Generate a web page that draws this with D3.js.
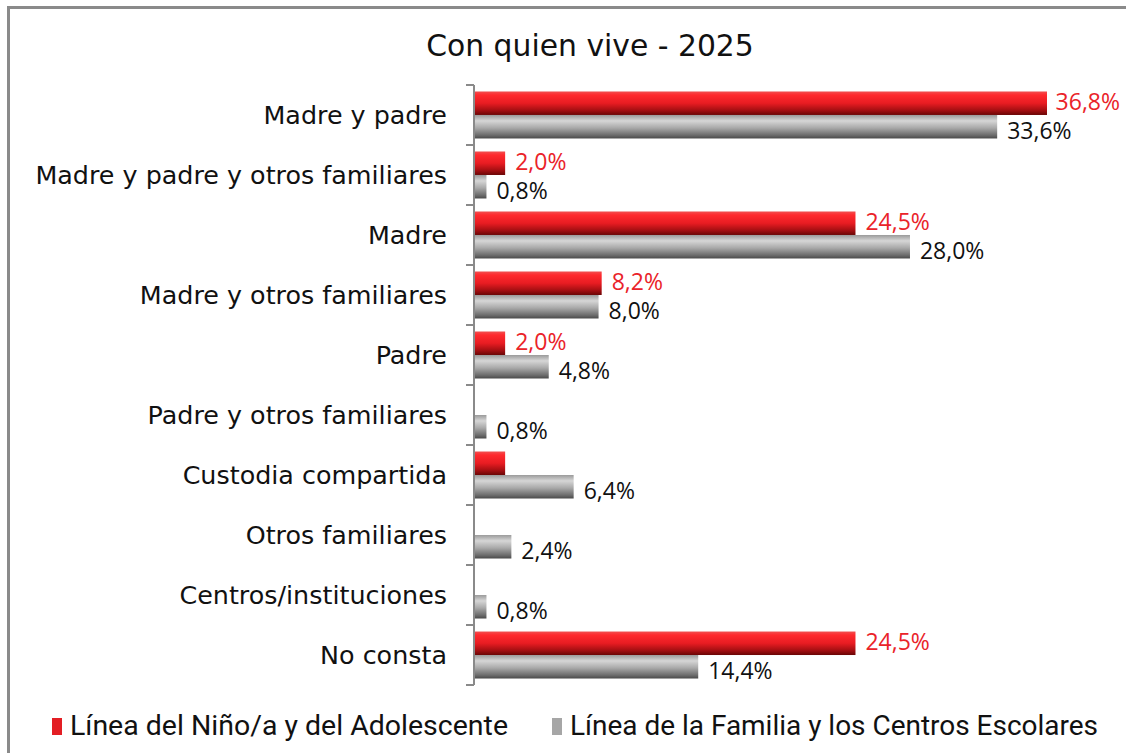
<!DOCTYPE html>
<meta charset="utf-8">
<head>
<style>
body { margin: 0; background: #fff; }
.cat { font-family: "DejaVu Sans", sans-serif; font-size: 25.4px; fill: #111; }
.val { font-family: "Open Sans", sans-serif; font-size: 23px; }
.title { font-family: "DejaVu Sans", sans-serif; font-size: 29.8px; fill: #111; }
.legend { font-family: "Roboto", sans-serif; font-size: 27px; fill: #111; }
</style>
</head>
<body>
<div id="chart"></div>
<script src="https://d3js.org/d3.v7.min.js"></script>
<script>

// data
var categories = ["Madre y padre", "Madre y padre y otros familiares", "Madre", "Madre y otros familiares",
  "Padre", "Padre y otros familiares", "Custodia compartida", "Otros familiares",
  "Centros/instituciones", "No consta"];
var seriesNames = ["Línea del Niño/a y del Adolescente", "Línea de la Familia y los Centros Escolares"];
var ninoValues = [36.8, 2.0, 24.5, 8.2, 2.0, 0, 2.0, 0, 0, 24.5];
var ninoLabels = ["36,8%", "2,0%", "24,5%", "8,2%", "2,0%", "", "", "", "", "24,5%"];
var familiaValues = [33.6, 0.8, 28.0, 8.0, 4.8, 0.8, 6.4, 2.4, 0.8, 14.4];
var familiaLabels = ["33,6%", "0,8%", "28,0%", "8,0%", "4,8%", "0,8%", "6,4%", "2,4%", "0,8%", "14,4%"];

var width = 1126, height = 753;
var plotLeft = 474, plotTop = 85, plotBottom = 685;

var svg = d3.select("#chart").append("svg")
    .attr("width", width)
    .attr("height", height);

// gradients
var defs = svg.append("defs");
var gRed = defs.append("linearGradient").attr("id", "gradRed")
    .attr("x1", 0).attr("y1", 0).attr("x2", 0).attr("y2", 1);
gRed.append("stop").attr("offset", "0%").attr("stop-color", "#f05050");
gRed.append("stop").attr("offset", "15%").attr("stop-color", "#ff2a2e");
gRed.append("stop").attr("offset", "50%").attr("stop-color", "#e81c22");
gRed.append("stop").attr("offset", "80%").attr("stop-color", "#a50f12");
gRed.append("stop").attr("offset", "100%").attr("stop-color", "#6a0505");
var gGray = defs.append("linearGradient").attr("id", "gradGray")
    .attr("x1", 0).attr("y1", 0).attr("x2", 0).attr("y2", 1);
gGray.append("stop").attr("offset", "0%").attr("stop-color", "#9a9a9a");
gGray.append("stop").attr("offset", "25%").attr("stop-color", "#d6d6d6");
gGray.append("stop").attr("offset", "55%").attr("stop-color", "#a9a9a9");
gGray.append("stop").attr("offset", "85%").attr("stop-color", "#6e6e6e");
gGray.append("stop").attr("offset", "100%").attr("stop-color", "#4a4a4a");

// frame
svg.append("path")
    .attr("d", "M8.5," + height + "V7.5H" + width)
    .attr("fill", "none")
    .attr("stroke", "#8a8a8a")
    .attr("stroke-width", 3);

svg.append("text")
    .attr("class", "title")
    .attr("x", 590)
    .attr("y", 56)
    .attr("text-anchor", "middle")
    .text("Con quien vive - 2025");

var x = d3.scaleLinear().domain([0, 36.8]).range([plotLeft, 1047]);
var y = d3.scaleBand().domain(categories).range([plotTop, plotBottom])
    .paddingInner(0.2167).paddingOuter(0.108);
var ySub = d3.scaleBand().domain([0, 1]).range([0, y.bandwidth()]);

var fills = ["url(#gradRed)", "url(#gradGray)"];
var labelColors = ["#ea2329", "#111"];
var labelShift = [-2, 4];
var allValues = [ninoValues, familiaValues];
var allLabels = [ninoLabels, familiaLabels];

allValues.forEach(function(vals, s) {
  var g = svg.append("g");
  vals.forEach(function(d, i) {
    if (d <= 0) return;
    g.append("rect")
      .attr("x", x(0))
      .attr("y", y(categories[i]) + ySub(s))
      .attr("width", x(d) - x(0))
      .attr("height", ySub.bandwidth())
      .attr("fill", fills[s]);
    if (allLabels[s][i]) {
      var t = g.append("text")
        .attr("class", "val")
        .attr("x", x(d) + 10)
        .attr("y", y(categories[i]) + ySub(s) + ySub.bandwidth() / 2 + labelShift[s])
        .attr("dy", "0.36em")
        .attr("fill", labelColors[s])
        .text(allLabels[s][i]);
      // keep inside the frame, like the original
      var w = t.node().getComputedTextLength();
      if (x(d) + 10 + w > 1120) t.attr("x", Math.max(x(d) + 2, 1120 - w));
    }
  });
});

// axis
var axisG = svg.append("g");
axisG.append("line")
    .attr("x1", plotLeft).attr("x2", plotLeft)
    .attr("y1", plotTop).attr("y2", plotBottom)
    .attr("stroke", "#8a8a8a").attr("stroke-width", 2);
var tickYs = categories.map(function(c) { return y(c) - y.step() * y.paddingInner() / 2; });
tickYs.push(plotBottom);
axisG.selectAll(".tick")
    .data(tickYs)
    .enter()
    .append("line")
      .attr("x1", plotLeft - 8).attr("x2", plotLeft)
      .attr("y1", function(d) { return d; })
      .attr("y2", function(d) { return d; })
      .attr("stroke", "#8a8a8a").attr("stroke-width", 2);

svg.append("g").selectAll("text")
    .data(categories)
    .enter()
    .append("text")
      .attr("class", "cat")
      .attr("x", 447)
      .attr("y", function(d) { return y(d) + y.bandwidth() / 2; })
      .attr("dy", "0.36em")
      .attr("text-anchor", "end")
      .text(function(d) { return d; });

// legend
var legendX = [52, 552];
var legendLen = [438, 528];
var legendColors = ["#e31e24", "#a6a6a6"];
seriesNames.forEach(function(name, i) {
  svg.append("rect")
    .attr("x", legendX[i]).attr("y", 718)
    .attr("width", 10).attr("height", 17)
    .attr("fill", legendColors[i]);
  svg.append("text")
    .attr("class", "legend")
    .attr("x", legendX[i] + 18)
    .attr("y", 735)
    .attr("textLength", legendLen[i])
    .attr("lengthAdjust", "spacingAndGlyphs")
    .text(name);
});
</script>
</body>
